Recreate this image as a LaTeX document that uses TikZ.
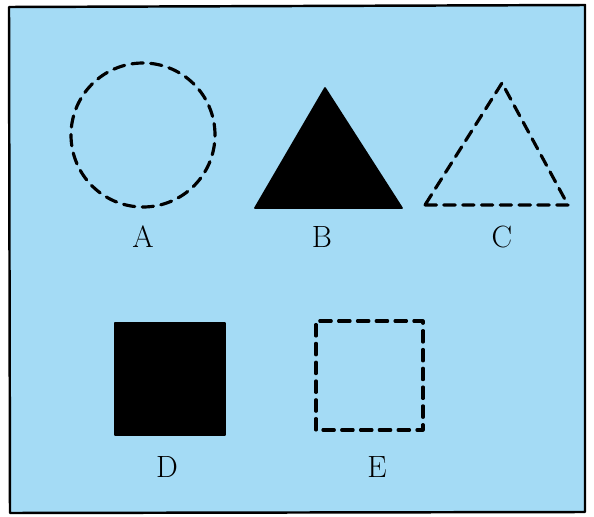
\documentclass[tikz,border=0pt]{standalone}
\begin{document}
\begin{tikzpicture}[line cap=round, line join=round, font=\fontsize{17.5}{21}\selectfont]
  \definecolor{skyblue}{RGB}{164,219,245}
  \tikzset{
    dashedshape/.style={line width=1.8pt, dash pattern=on 6.5pt off 4.2pt},
    solidshape/.style={fill=black, draw=black, line width=1pt},
    shapelabel/.style={inner sep=0pt}
  }
  \useasboundingbox (0,0) rectangle (11.88,10.32);
  \draw[line width=1.4pt, fill=skyblue] (0.18,10.18) -- (11.70,10.22) -- (11.70,0.08) -- (0.20,0.06) -- cycle;
  
  \coordinate (A) at (2.86,7.62);
  \coordinate (B1) at (5.10,6.16);
  \coordinate (B2) at (8.04,6.16);
  \coordinate (B3) at (6.50,8.56);
  \coordinate (C1) at (8.50,6.22);
  \coordinate (C2) at (11.36,6.22);
  \coordinate (C3) at (10.04,8.66);
  \coordinate (D1) at (2.30,1.62);
  \coordinate (D2) at (4.50,3.86);
  \coordinate (E1) at (6.32,1.72);
  \coordinate (E2) at (8.46,3.90);
  
  \draw[dashedshape] (A) circle (1.44);
  \draw[solidshape] (B1) -- (B2) -- (B3) -- cycle;
  \draw[dashedshape] (C1) -- (C2) -- (C3) -- cycle;
  \draw[solidshape] (D1) rectangle (D2);
  \draw[dashedshape] (E1) rectangle (E2);
  
  \node[shapelabel] (la) at (2.86,5.58) {A};
  \node[shapelabel] (lb) at (6.44,5.58) {B};
  \node[shapelabel] (lc) at (10.04,5.58) {C};
  \node[shapelabel] (ld) at (3.34,0.98) {D};
  \node[shapelabel] (le) at (7.54,0.98) {E};
\end{tikzpicture}
\end{document}
